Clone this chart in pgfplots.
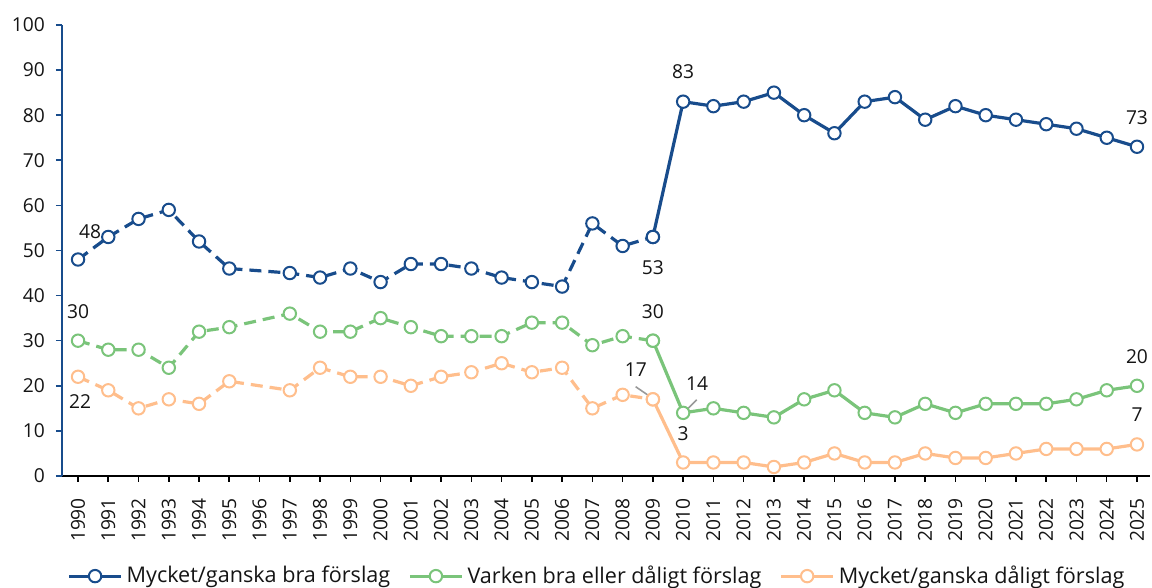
\documentclass[border=0pt]{standalone}
\usepackage{pgfplots}
\pgfplotsset{compat=1.18}
\usepackage{pgfplotstable}
\usepackage{fontspec}
\setmainfont{Open Sans}
\definecolor{cblue}{RGB}{24,76,140}
\definecolor{cgreen}{RGB}{122,196,122}
\definecolor{corange}{RGB}{255,190,140}
\definecolor{ctext}{RGB}{20,20,20}

\pgfplotstableread{
year good neither bad
1990 48 30 22
1991 53 28 19
1992 57 28 15
1993 59 24 17
1994 52 32 16
1995 46 33 21
1997 45 36 19
1998 44 32 24
1999 46 32 22
2000 43 35 22
2001 47 33 20
2002 47 31 22
2003 46 31 23
2004 44 31 25
2005 43 34 23
2006 42 34 24
2007 56 29 15
2008 51 31 18
2009 53 30 17
}\early

\pgfplotstableread{
year good neither bad
2009 53 30 17
2010 83 14 3
2011 82 15 3
2012 83 14 3
2013 85 13 2
2014 80 17 3
2015 76 19 5
2016 83 14 3
2017 84 13 3
2018 79 16 5
2019 82 14 4
2020 80 16 4
2021 79 16 5
2022 78 16 6
2023 77 17 6
2024 75 19 6
2025 73 20 7
}\late

\newcommand{\fs}{\fontsize{9.6}{11.5}\selectfont}
\newcommand{\fl}{\fontsize{10.8}{13}\selectfont}

\begin{document}
\begin{tikzpicture}
\begin{axis}[
  name=ax,
  width=544pt, height=225.5pt, scale only axis,
  xmin=1989.47, xmax=2025.43, ymin=0, ymax=100,
  axis x line*=bottom, axis y line*=left,
  x axis line style={black, line width=1pt, -},
  y axis line style={cblue, line width=1pt, -},
  xtick={1990,...,2025}, ytick={0,10,...,100},
  tick align=outside,
  major tick length=3pt,
  x tick style={black, line width=0.8pt},
  y tick style={cblue, line width=0.8pt},
  /pgf/number format/1000 sep={},
  /pgf/number format/assume math mode=true,
  ticklabel style={font=\fs, text=ctext},
  x tick label style={rotate=90, anchor=east, xshift=-4.5pt},
  y tick label style={xshift=-2pt},
  legend columns=3,
  legend style={draw=none, fill=none, font=\fl, text=ctext,
    at={(0.4926,-0.222)}, anchor=center,
    /tikz/every even column/.append style={column sep=7pt},
    inner sep=0pt},
  legend image code/.code={\draw[mark repeat=2,mark phase=2,#1] plot coordinates {(0pt,0pt) (13pt,0pt) (26pt,0pt)};},
  every axis plot/.append style={line width=1.6pt, mark=*, mark size=3.1pt,
    mark options={solid, fill=white, line width=1pt}},
  clip=false,
]
\addplot[cblue, dash pattern=on 6pt off 3.5pt, forget plot] table[x=year,y=good] {\early};
\addplot[cgreen, dash pattern=on 6pt off 3.5pt, forget plot] table[x=year,y=neither] {\early};
\addplot[corange, dash pattern=on 6pt off 3.5pt, forget plot] table[x=year,y=bad] {\early};
\addplot[cblue] table[x=year,y=good] {\late};
\addplot[cgreen] table[x=year,y=neither] {\late};
\addplot[corange] table[x=year,y=bad] {\late};
\legend{Mycket/ganska bra förslag, Varken bra eller dåligt förslag, Mycket/ganska dåligt förslag}

\draw[gray!80, line width=0.8pt] (axis cs:2008.43,19.8) -- (axis cs:2008.93,17.5);
\draw[gray!80, line width=0.8pt] (axis cs:2010.45,16.9) -- (axis cs:2010.07,14.4);

\begin{scope}[every node/.style={font=\fs, text=ctext, anchor=center, inner sep=0pt}]
\node at (axis cs:1990.40,54.1) {48};
\node at (axis cs:1990,36.4) {30};
\node at (axis cs:1990.07,16.4) {22};
\node at (axis cs:2009,46.1) {53};
\node at (axis cs:2009,36.4) {30};
\node at (axis cs:2008.44,23.5) {17};
\node at (axis cs:2010.46,20.4) {14};
\node at (axis cs:2010,9.5) {3};
\node at (axis cs:2010,89.6) {83};
\node at (axis cs:2025,79.4) {73};
\node at (axis cs:2025,26.4) {20};
\node at (axis cs:2025,13.5) {7};
\end{scope}
\end{axis}
\pgfresetboundingbox
\path (ax.south west) ++(-31pt,-56pt) rectangle ++(576pt,294pt);
\end{tikzpicture}
\end{document}
